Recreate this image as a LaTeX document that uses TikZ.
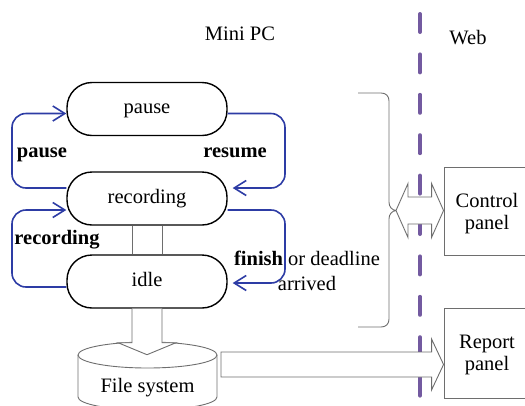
\documentclass[tikz,border=0pt]{standalone}
\usepackage{fontspec}
\setmainfont{Liberation Serif}
\usetikzlibrary{arrows.meta,calc}
\definecolor{flowblue}{RGB}{45,60,165}
\definecolor{webline}{RGB}{115,90,160}
\definecolor{outline}{RGB}{110,110,110}

\begin{document}
\begin{tikzpicture}[x=1pt,y=-1pt,
  every node/.style={font=\fontsize{20.5}{24}\selectfont, inner sep=0pt,
                     text height=14pt, text depth=4.5pt},
  state/.style={draw=black, fill=white, line width=1.4pt, rounded corners=25pt,
                minimum width=160pt, minimum height=53pt},
  flow/.style={draw=flowblue, line width=1.6pt, rounded corners=14pt,
               -{Straight Barb[length=12pt,width=15pt]}},
  lbl/.style={font=\fontsize{20.5}{24}\selectfont\bfseries},
  multiline/.style={align=center, text height={}, text depth={}},
  hollow/.style={draw=outline, line width=0.9pt, fill=white},
  thinline/.style={draw=outline, line width=0.9pt},
  panel/.style={draw=outline, fill=white, line width=0.9pt, minimum width=86pt,
                multiline, text depth=0pt, font=\fontsize{20.5}{22}\selectfont}]

\useasboundingbox (0,0) rectangle (525,405);

% headings
\node (minipc) at (240,36) {Mini PC};
\node (web) at (468,40) {Web};

% boundary between the mini PC and the web
\draw[webline, line width=4pt, line cap=round, dash pattern=on 18pt off 22.4pt]
  (420,14) -- (420,396);

% web side panels
\node[panel, minimum height=88pt] (control) at (487,211) {Control\\panel};
\node[panel, minimum height=90pt] (report) at (487,353) {Report\\panel};

% state machine
\node[state] (pause) at (147,109) {pause};
\node[state] (rec) at (147,198.5) {recording};
\node[state] (idle) at (147,281.5) {idle};

% transitions
\draw[flow] (rec.west |- 0,188) -- (12,188) -- (12,113.5) -- (pause.west |- 0,113.5);
\draw[flow] (pause.east |- 0,113.5) -- (285,113.5) -- (285,188)
  -- ($(rec.east |- 0,188)+(5,0)$);
\draw[flow] (idle.west |- 0,287) -- (12,287) -- (12,210) -- (rec.west |- 0,210);
\draw[flow] (rec.east |- 0,210) -- (285,210) -- (285,283)
  -- ($(idle.east |- 0,283)+(5,0)$);

\node[lbl] (lpause) at (42,153) {pause};
\node[lbl] (lresume) at (235,153) {resume};
\node[lbl] (lrec) at (57,240) {recording};
\node[multiline, font=\fontsize{20.5}{25}\selectfont] (lfinish) at (307,270.5)
  {\textbf{finish} or deadline\\arrived};

% wide link between recording and idle
\draw[thinline] ($(rec.south)+(-15,0)$) -- ($(idle.north)+(-15,0)$);
\draw[thinline] ($(rec.south)+(15,0)$) -- ($(idle.north)+(15,0)$);

% file system cylinder
\draw[thinline] (78,355) -- (78,397)
  arc[start angle=180, end angle=360, x radius=69.5pt, y radius=13pt] -- (217,355);
\draw[thinline] (147.5,355) ellipse[x radius=69.5pt, y radius=13pt];
\node (fs) at (147.5,388) {File system};

% hollow arrow from idle into the file system
\draw[hollow] ($(idle.south)+(-15,0)$) -- ++(0,34) -- ++(-14,0)
  -- ($(idle.south)+(0,46)$) -- ($(idle.south)+(29,34)$) -- ++(-14,0)
  -- ($(idle.south)+(15,0)$);

% hollow arrow from the file system to the report panel
\coordinate (rs) at (221,364.5);
\draw[hollow] ($(rs)+(0,-12.5)$) -- ($(report.west |- rs)+(-12,-12.5)$) -- ++(0,-13)
  -- (report.west |- rs) -- ($(report.west |- rs)+(-12,25.5)$) -- ++(0,-13)
  -- ($(rs)+(0,12.5)$) -- cycle;

% brace gathering the states
\coordinate (cusp) at (396,210.5);
\draw[thinline] (358,93) -- (381,93) .. controls (386,93) and (389,96) .. (389,101)
  -- (389,202) .. controls (389,207) and (392,210) .. (cusp)
  .. controls (392,211) and (389,214) .. (389,219)
  -- (389,319) .. controls (389,324) and (386,327) .. (381,327) -- (358,327);

% two-way hollow arrow to the control panel
\draw[hollow] (cusp) -- ($(cusp)+(12,-27)$) -- ++(0,13.5)
  -- ($(control.west |- cusp)+(-12,-13.5)$) -- ++(0,-13.5)
  -- (control.west |- cusp) -- ($(control.west |- cusp)+(-12,27)$) -- ++(0,-13.5)
  -- ($(cusp)+(12,13.5)$) -- ++(0,13.5) -- cycle;

\end{tikzpicture}
\end{document}
